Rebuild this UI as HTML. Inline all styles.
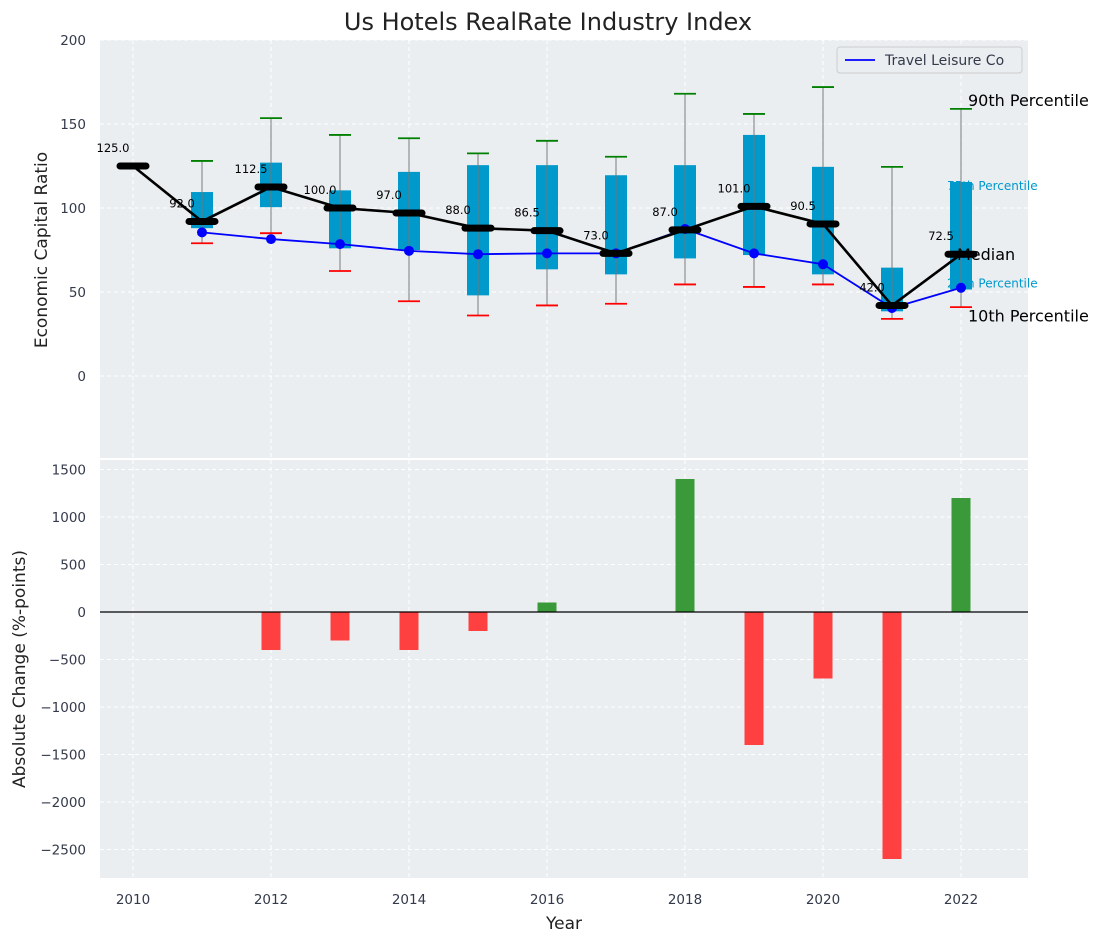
<!DOCTYPE html>
<html><head><meta charset="utf-8"><style>
body{margin:0;background:#fff;font-family:"Liberation Sans","DejaVu Sans",sans-serif}
text{font-family:"DejaVu Sans","Liberation Sans",sans-serif}
</style></head><body>
<svg id="chart" width="1103" height="942" xmlns="http://www.w3.org/2000/svg">
<g id="topPanel"></g>
<g id="botPanel"></g>
</svg>
<script>
const years=[2011,2012,2013,2014,2015,2016,2017,2018,2019,2020,2021,2022];
const medianYears=[2010,2011,2012,2013,2014,2015,2016,2017,2018,2019,2020,2021,2022];
const medians=[125,92,112.5,100,97,88,86.5,73,87,101,90.5,42,72.5];
const q1=[88,100.5,76,75,48,63.5,60.5,70,72,60.5,38.5,51.5];
const q3=[109.5,127,110.5,121.5,125.5,125.5,119.5,125.5,143.5,124.5,64.5,115.5];
const p10=[79,85,62.5,44.5,36,42,43,54.5,53,54.5,34,41];
const p90=[128,153.5,143.5,141.5,132.5,140,130.5,168,156,172,124.5,159];
const travel=[85.5,81.5,78.5,74.5,72.5,73,73,87.5,73,66.5,40.5,52.5];
const changeYears=[2011,2012,2013,2014,2015,2016,2017,2018,2019,2020,2021,2022];
const changes=[0,-400,-300,-400,-200,100,0,1400,-1400,-700,-2600,1200];
const topTicks=[0,50,100,150,200];
const botTicks=[-2500,-2000,-1500,-1000,-500,0,500,1000,1500];
const xTicks=[2010,2012,2014,2016,2018,2020,2022];

const NS='http://www.w3.org/2000/svg';
const L=100,R=1028;
const x=v=>133+(v-2010)*69;
const yT=v=>376-v*1.68;
const yB=v=>612-v*0.095;
function mk(p,tag,a,txt){const e=document.createElementNS(NS,tag);for(const k in a)e.setAttribute(k,a[k]);if(txt!==undefined)e.textContent=txt;p.appendChild(e);return e;}
const topG=document.getElementById('topPanel'),botG=document.getElementById('botPanel'),svgEl=document.getElementById('chart');
let e;

e=mk(topG,'rect',{x:L,y:40,width:R-L,height:418,fill:'#eaeef0'});


e=mk(botG,'rect',{x:L,y:460,width:R-L,height:418,fill:'#eaeef0'});



xTicks.forEach(t=>{
  e=mk(topG,'line',{x1:x(t),x2:x(t),y1:40,y2:458,stroke:'#fff','stroke-dasharray':'4,3','stroke-width':1});
  
  
  e=mk(botG,'line',{x1:x(t),x2:x(t),y1:460,y2:878,stroke:'#fff','stroke-dasharray':'4,3','stroke-width':1});
  
  
  e=mk(svgEl,'text',{x:x(t),y:904,'font-size':13.5,fill:'#333a4a','text-anchor':'middle'},t);
  
  
});
topTicks.forEach(t=>{
  e=mk(topG,'line',{x1:L,x2:R,y1:yT(t),y2:yT(t),stroke:'#fff','stroke-dasharray':'4,3','stroke-width':1});
  
  
  e=mk(topG,'text',{x:86,y:yT(t)+5,'font-size':13.5,fill:'#333a4a','text-anchor':'end'},t);
  
  
});
botTicks.forEach(t=>{
  e=mk(botG,'line',{x1:L,x2:R,y1:yB(t),y2:yB(t),stroke:'#fff','stroke-dasharray':'4,3','stroke-width':1});
  
  
  e=mk(botG,'text',{x:86,y:yB(t)+5,'font-size':13.5,fill:'#333a4a','text-anchor':'end'},(t<0?'\u2212':'')+Math.abs(t));
  
  
});

const lx=x(2022);
e=mk(topG,'text',{x:lx+7,y:106,'font-size':16,fill:'#000'},'90th Percentile');


e=mk(topG,'text',{x:lx-14,y:yT(113)+4,'font-size':12,fill:'#0099cc'},'75th Percentile');


e=mk(topG,'text',{x:lx-14,y:yT(52)-1,'font-size':12,fill:'#0099cc'},'25th Percentile');


e=mk(topG,'text',{x:lx+7,y:yT(36)+6,'font-size':16,fill:'#000'},'10th Percentile');



years.forEach((yr,i)=>{
  const cx=x(yr);
  e=mk(topG,'rect',{x:cx-11,y:yT(q3[i]),width:22,height:yT(q1[i])-yT(q3[i]),fill:'#0099cc'});
  
  
  e=mk(topG,'line',{x1:cx,x2:cx,y1:yT(p90[i]),y2:yT(p10[i]),stroke:'#777','stroke-width':1.2,opacity:0.8});
  
  
  e=mk(topG,'line',{x1:cx-11,x2:cx+11,y1:yT(p90[i]),y2:yT(p90[i]),stroke:'#008000','stroke-width':1.8});
  
  
  e=mk(topG,'line',{x1:cx-11,x2:cx+11,y1:yT(p10[i]),y2:yT(p10[i]),stroke:'#ff0000','stroke-width':1.8});
  
  
});
e=mk(topG,'text',{x:lx-4,y:yT(72.5)+6,'font-size':16,fill:'#000'},'Median');



e=mk(topG,'polyline',{points:years.map((yr,i)=>x(yr)+','+yT(travel[i])).join(' '),fill:'none',stroke:'#0000ff','stroke-width':1.8});


years.forEach((yr,i)=>{
  e=mk(topG,'circle',{cx:x(yr),cy:yT(travel[i]),r:5,fill:'#0000ff'});
  
  
});

e=mk(topG,'polyline',{points:medianYears.map((yr,i)=>x(yr)+','+yT(medians[i])).join(' '),fill:'none',stroke:'#000','stroke-width':2.6});


medianYears.forEach((yr,i)=>{
  const cx=x(yr),cy=yT(medians[i]);
  e=mk(topG,'line',{x1:cx-13,x2:cx+13,y1:cy,y2:cy,stroke:'#000','stroke-width':7,'stroke-linecap':'round'});
  
  
  e=mk(topG,'text',{x:cx-20,y:cy-14,'font-size':11.5,fill:'#000','text-anchor':'middle'},medians[i].toFixed(1));
  
  
});

e=mk(topG,'rect',{x:837,y:47,width:185,height:26,rx:3,fill:'#eaeef0',stroke:'#ccc'});


e=mk(topG,'line',{x1:845,x2:875,y1:60,y2:60,stroke:'#0000ff','stroke-width':1.8});


e=mk(topG,'text',{x:885,y:65,'font-size':14,fill:'#333a4a'},'Travel Leisure Co');



changeYears.forEach((yr,i)=>{
  const v=changes[i];if(v===0)return;
  const y0=yB(Math.max(v,0)),h=Math.abs(yB(v)-yB(0));
  e=mk(botG,'rect',{x:x(yr)-9.5,y:y0,width:19,height:h,fill:v>0?'#3a9a3a':'#ff4040'});
  
  
});
e=mk(botG,'line',{x1:L,x2:R,y1:yB(0),y2:yB(0),stroke:'#000','stroke-width':1.2});



e=mk(svgEl,'text',{x:548,y:30,'font-size':24,fill:'#222','text-anchor':'middle'},'Us Hotels RealRate Industry Index');


e=mk(svgEl,'text',{x:564,y:929,'font-size':17,fill:'#222','text-anchor':'middle'},'Year');


e=mk(svgEl,'text',{x:0,y:0,'font-size':17,fill:'#222','text-anchor':'middle',transform:'translate(47,250) rotate(-90)'},'Economic Capital Ratio');


e=mk(svgEl,'text',{x:0,y:0,'font-size':17,fill:'#222','text-anchor':'middle',transform:'translate(25,669) rotate(-90)'},'Absolute Change (%-points)');


</script>
</body></html>
